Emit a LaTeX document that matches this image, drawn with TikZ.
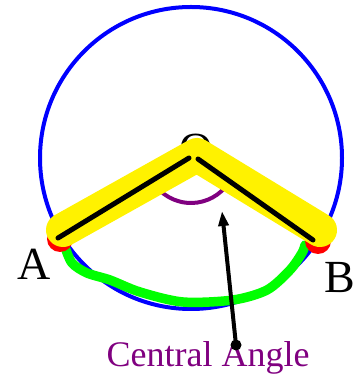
\documentclass[tikz,border=0pt]{standalone}
\usepackage{fontspec}
\setmainfont{Liberation Serif}
\usetikzlibrary{arrows.meta}
\definecolor{angpurple}{RGB}{128,0,128}

\begin{document}
\begin{tikzpicture}[x=1pt,y=1pt,
    rim/.style={draw=blue,line width=4pt},
    arcline/.style={draw=green,line width=9.5pt,line cap=round,line join=round},
    band/.style={draw=yellow,line width=34pt,line cap=round,line join=round},
    endblob/.style={circle,fill=red,inner sep=0pt,minimum size=26pt},
    spoke/.style={draw=black,line width=5pt,line cap=round},
    angmark/.style={draw=angpurple,line width=4pt},
    pointer/.style={draw=black,line width=4pt,-{Triangle[length=15pt,width=10pt]}},
    ptlabel/.style={font=\fontsize{46}{50}\selectfont,inner sep=0pt,anchor=base}]
  \useasboundingbox (0,0) rectangle (358,377);

  \coordinate (O) at (191,219);
  \coordinate (A) at (58,139);
  \coordinate (B) at (313,137);

  % circle and arc AB
  \draw[rim] (O) circle[radius=151];
  \draw[arcline] plot[smooth] coordinates {(65,130) (72,114) (87,104) (110,97)
      (140,85) (183,75) (233,77) (267,87) (290,107) (302,124) (305,132)};

  % central angle mark
  \draw[angmark] ([shift={(211:45)}]O) arc[start angle=211,end angle=326,radius=45];

  \node[ptlabel] (lblO) at (196,212) {O};

  % end points and radii
  \node[endblob] (blobA) at (60,138) {};
  \node[endblob] (blobB) at (318,136) {};
  \coordinate (yA) at (63,147);
  \coordinate (yO) at (197,222);
  \coordinate (yB) at (320,147);
  \draw[band] (yA) -- (yO) -- (yB);
  \coordinate (OL) at (189,219);
  \coordinate (OR) at (198,218);
  \draw[spoke] (A) -- (OL);
  \draw[spoke] (OR) -- (B);

  \node[ptlabel] (lblA) at (34,97) {A};
  \node[ptlabel] (lblB) at (340,84) {B};

  % label with pointer
  \node[font=\fontsize{36}{40}\selectfont,text=angpurple,inner sep=0pt,anchor=base]
      (lblC) at (208,10) {Central Angle};
  \node[circle,fill=black,inner sep=0pt,minimum size=11pt] (dot) at (236,32) {};
  \coordinate (tip) at (222,166);
  \draw[pointer] (dot.center) -- (tip);
\end{tikzpicture}
\end{document}
